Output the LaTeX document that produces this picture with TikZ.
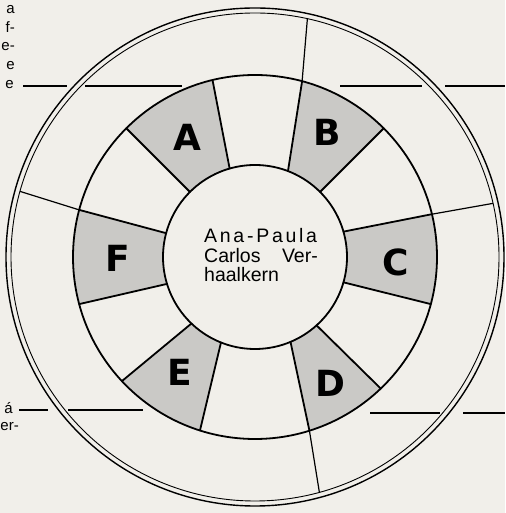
\documentclass[tikz,border=0pt]{standalone}
\usepackage{fontspec}
\setmainfont{Liberation Sans}
\newfontfamily\lblfont{DejaVu Sans}
\newfontfamily\spacedfont[LetterSpace=14]{Liberation Sans}
\usetikzlibrary{calc}
\definecolor{paper}{RGB}{241,239,234}
\definecolor{dotgray}{RGB}{202,201,198}
\newcommand\shadesector[4]{%
  \fill[dotgray] ($(c)+(#1:92)$) -- ($(c)+(#2:182)$)
    arc[start angle=#2, end angle=#3, radius=182]
    -- ($(c)+(#4:92)$) arc[start angle=#4, end angle=#1, radius=92] -- cycle;}
\newcommand\bline[2]{\draw[ring] ($(c)+(#1:92)$) -- ($(c)+(#2:182)$);}
\begin{document}
\begin{tikzpicture}[x=1pt,y=1pt,
  ring/.style={line width=1.8pt, line cap=round},
  rule/.style={line width=1.1pt},
  lbl/.style={font=\lblfont\bfseries\fontsize{36}{36}\selectfont, inner sep=0pt},
  ctext/.style={font=\fontsize{19.5}{20}\selectfont, inner sep=0pt},
  side/.style={font=\fontsize{15}{15}\selectfont, inner sep=0pt, anchor=base east}]
\fill[paper] (0,0) rectangle (505,513);
\useasboundingbox (0,0) rectangle (505,513);
\coordinate (c) at (255,256);
% shaded sectors
\shadesector{135}{135}{103.5}{106}
\shadesector{69}{75}{45}{45}
\shadesector{16}{13.6}{-15}{-16}
\shadesector{-48}{-46.3}{-72.6}{-67.3}
\shadesector{-111.7}{-107.6}{-137}{-133.7}
\shadesector{-163}{-165}{-195}{-195}
% circles
\draw[ring] (c) circle[radius=182];
\draw[ring] (c) circle[radius=92];
\draw[line width=1.4pt] (c) circle[radius=249];
\draw[line width=0.9pt] (c) circle[radius=244];
% boundary lines
\bline{106}{103.5}
\bline{69}{75}
\bline{45}{45}
\bline{16}{13.6}
\bline{-16}{-15}
\bline{-48}{-46.3}
\bline{-67.3}{-72.6}
\bline{-111.7}{-107.6}
\bline{-133.7}{-137}
\bline{-163}{-165}
\bline{165}{165}
\bline{135}{135}
% extensions to outer circle
\draw[line width=1.2pt] ($(c)+(75:182)$) -- ($(c)+(77.6:244)$);
\draw[line width=1.2pt] ($(c)+(13.6:182)$) -- ($(c)+(12.7:244)$);
\draw[line width=1.2pt] ($(c)+(-72.6:182)$) -- ($(c)+(-74.7:244)$);
\draw[line width=1.2pt] ($(c)+(165:182)$) -- ($(c)+(164.4:244)$);
% horizontal rules
\coordinate (tl1) at (23,427); \coordinate (tl2) at (67,427);
\coordinate (tl3) at (85,427); \coordinate (tl4) at (182,427);
\coordinate (tr1) at (340,427); \coordinate (tr2) at (422,427);
\coordinate (tr3) at (445,427); \coordinate (tr4) at (505,427);
\coordinate (bl1) at (19,103); \coordinate (bl2) at (48,103);
\coordinate (bl3) at (68,103); \coordinate (bl4) at (143,103);
\coordinate (br1) at (370,100); \coordinate (br2) at (440,100);
\coordinate (br3) at (463,100); \coordinate (br4) at (505,100);
\draw[rule] (tl1) -- (tl2) (tl3) -- (tl4);
\draw[rule] (tr1) -- (tr2) (tr3) -- (tr4);
\draw[rule] (bl1) -- (bl2) (bl3) -- (bl4);
\draw[rule] (br1) -- (br2) (br3) -- (br4);
% labels
\node[lbl] (A) at (187,376) {A};
\node[lbl] (B) at (327,381) {B};
\node[lbl] (C) at (396,251) {C};
\node[lbl] (D) at (330,130) {D};
\node[lbl] (E) at (180,141) {E};
\node[lbl] (F) at (118,255) {F};
% centre text
\node[ctext, font=\spacedfont\fontsize{19.5}{20}\selectfont, anchor=base west] (n1) at (204,270) {Ana-Paula};
\node[ctext, anchor=base west] (n2) at (204,250) {Carlos};
\node[ctext, anchor=base east] (n3) at (318,250) {Ver-};
\node[ctext, anchor=base west] (n4) at (204,231) {haalkern};
% margin text
\node[side] (s1) at (15,499) {a};
\node[side] (s2) at (15,480) {f-};
\node[side] (s3) at (15,462) {e-};
\node[side] (s4) at (15,443) {e};
\node[side] (s5) at (14,424) {e};
\node[side] (s6) at (13,99) {á};
\node[side] (s7) at (19,82) {er-};
\end{tikzpicture}
\end{document}
